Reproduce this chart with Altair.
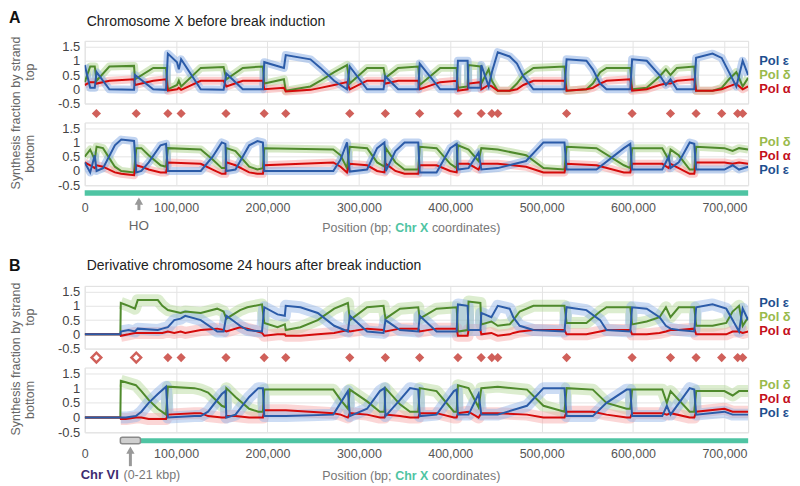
import altair as alt
import pandas as pd

FONT = "Liberation Sans"
XMAX = 726000
X_TICKS = [0, 100000, 200000, 300000, 400000, 500000, 600000, 700000]
Y_TICKS = [-0.5, 0, 0.5, 1, 1.5]

# replication origins (kb) shown as diamonds
ORIGINS_KB = [12.8, 56.4, 91, 105.5, 154.6, 196.4, 220, 290, 329, 366.5, 408.4,
              433.8, 445.5, 452, 527.3, 599, 641, 669, 697, 714.5, 720]
B_ORIGIN_KIND = ["open", "open", "solid", "solid", "solid", "solid", "solid", "solid",
                 "solid", "solid", "solid", "solid", "solid", "solid", "solid", "solid",
                 "solid", "solid", "solid", "solid", "solid"]

# ---- Panel A, top strand (x in kb) ----
A_TOP_X = [0, 6, 11, 13, 27, 54, 55, 75, 89, 91, 101, 103, 105.5, 127, 152, 155, 173, 195,
           196.5, 218, 220, 247, 258, 273, 287, 290, 309, 327, 329, 343, 365, 366.6, 389,
           407, 408.4, 419, 420, 433, 434, 442, 445.5, 452, 465, 473, 480, 491, 525, 527.3,
           549, 556, 564, 571, 597, 599, 615, 629, 636, 641, 648, 667, 669, 687, 697, 705,
           713, 714.6, 720, 726]
A_TOP_EPS = [.85, .05, .05, .6, 0, -.02, .5, 0, -.02, 1.25, .95, .7, 1.05, 0, -.02, .55, 0, 0,
             .95, .75, 1.2, 1.05, .75, .3, 0, .8, 0, 0, .45, 0, 0, .9, 0, 0, 1.0, 1.0, .05, .05,
             .85, .1, .6, 1.3, 1.15, .9, .45, 0, 0, 1.05, 1.0, .7, .2, 0, 0, 1.05, 1.0, .5, .15,
             .35, 0, 0, 1.1, 1.25, 1.1, .6, .1, .3, 1.0, .5]
A_TOP_DELTA = [.25, .8, .8, .3, .8, .82, .35, .75, .75, 0, .15, .3, .1, .75, .78, .35, .75, .8,
               .2, .35, -.05, .1, .3, .6, .85, .2, .75, .75, .4, .75, .8, .15, .75, .75, .05, .1,
               .85, .8, .2, .7, .3, -.05, -.05, .2, .5, .75, .8, -.05, 0, .2, .6, .75, .75, 0,
               .05, .45, .7, .5, .75, .8, -.05, -.05, .05, .35, .6, .5, .1, .4]
A_TOP_ALPHA = [.15, .25, .25, .2, .3, .35, .15, .3, .35, -.05, 0, .05, -.02, .3, .3, .1, .3, .3,
               0, .05, -.08, -.02, .05, .15, .25, 0, .3, .3, .2, .3, .3, 0, .25, .3, -.05, 0,
               .2, .25, 0, .15, .1, -.05, -.05, 0, .15, .3, .3, -.05, 0, .05, .2, .3, .35, -.05,
               0, .15, .2, .2, .3, .35, -.05, -.05, 0, .1, .2, .15, 0, .1]

# ---- Panel A, bottom strand ----
A_BOT_X = [0, 6, 11, 13, 20, 33, 40, 54, 56.4, 62, 70, 83, 89, 91, 127, 140, 150, 154, 155,
           165, 180, 189, 195, 196.5, 272, 280, 287, 290, 309, 320, 328, 329.5, 340, 350, 365,
           366.6, 385, 400, 407, 408.4, 420, 431, 434, 452, 483, 502, 525, 527.3, 560, 590,
           597, 599, 632, 639, 641.1, 650, 662, 667, 669.1, 700, 709, 716, 726]
A_BOT_EPS = [.3, -.05, .55, 0, .1, .9, 1.1, 1.05, -.05, 0, .3, .9, .95, 0, 0, .5, 1.0, .95, 0,
             .05, .9, 1.05, 1.0, 0, 0, .4, 1.0, -.02, .05, .8, 1.0, 0, .7, 1.0, 1.0, -.05, -.05,
             .8, .95, .05, .1, .65, .05, .1, .35, 1.0, 1.0, .05, .05, .8, .95, .05, .05, .5, .1,
             .3, 1.0, .95, .05, .05, .2, .05, .15]
A_BOT_DELTA = [.5, .75, .4, .85, .8, .15, 0, -.05, .8, .8, .55, .2, .15, .8, .75, .4, .1, .1,
               .8, .7, .15, .05, .1, .8, .75, .55, .1, .85, .8, .3, .15, .8, .3, .05, .05, .85,
               .8, .25, .1, .9, .75, .35, .8, .75, .55, .1, .05, .85, .8, .2, .1, .8, .8, .4,
               .75, .55, .05, .05, .85, .8, .7, .8, .75]
A_BOT_ALPHA = [.3, .2, .1, .2, .15, -.05, -.1, -.15, .2, .15, .05, -.05, -.05, .3, .25, .05,
               -.1, -.1, .3, .2, -.05, -.1, -.1, .2, .3, .15, -.05, .25, .2, 0, -.05, .25, 0,
               -.1, -.1, .2, .2, 0, -.05, .25, .25, .05, .25, .25, .15, -.05, -.05, .25, .2,
               -.05, -.05, .25, .25, .1, .25, .1, -.1, -.1, .3, .3, .25, .3, .25]

# ---- Panel B, top strand ----
B_TOP_X = [0, 39, 39.5, 48, 55, 58, 80, 85, 91, 98, 105, 110, 127, 145, 152, 155, 170, 178,
           194, 196.5, 211, 219, 220, 236, 255, 273, 288, 290.2, 309, 327, 329.1, 345, 365,
           366.6, 385, 407, 408.4, 419, 420, 433, 434, 445, 452, 465, 469, 476, 491, 525,
           527.3, 549, 564, 571, 597, 599, 615, 629, 636, 641, 650, 667, 669.1, 687, 702, 709,
           716, 720, 726]
B_TOP_EPS = [0, 0, .1, .15, .1, .2, .15, .2, .25, .5, .55, .65, .5, .1, .1, .65, .3, .15, .1,
             .95, .7, .65, 1.0, .95, .75, .3, .1, .65, .1, .05, .5, .15, .1, .65, .1, .1, 1.05,
             1.0, .15, .15, .75, .6, 1.0, .9, .6, .3, .15, .1, .95, .85, .5, .15, .1, .95, .9,
             .6, .3, .2, .15, .1, .95, 1.05, .9, .5, .1, .9, .5]
B_TOP_DELTA = [0, 0, 1.1, 1.0, .9, 1.2, 1.2, 1.0, .85, .8, .75, .8, .75, .9, .8, .55, .85, .95,
               1.05, .4, .25, .35, .15, .25, .5, .9, 1.1, .5, .95, 1.0, .55, .9, .95, .55, .9,
               .95, .1, .15, 1.15, 1.1, .35, .45, .3, .35, .5, .8, 1.0, 1.0, .4, .4, .8, .95,
               .95, .35, .45, .6, .95, .6, .95, .95, .3, .3, .4, .8, 1.0, .3, .6]
B_TOP_ALPHA = [0, 0, -.05, 0, .05, .05, .05, .05, .1, .05, .1, .05, .15, .2, .15, .1, .25, .2,
               .05, -.05, 0, 0, -.05, -.05, 0, .05, .15, .1, .2, .15, .1, .2, .2, .1, .2, .2,
               -.05, -.05, .15, .15, 0, .05, -.05, 0, .05, .1, .15, .15, 0, 0, .1, .15, .15, 0,
               0, .05, .1, .15, .15, .2, 0, 0, 0, .1, .1, .05, .1]

# ---- Panel B, bottom strand ----
B_BOT_X = [0, 39, 39.5, 45, 56, 62, 70, 80, 89, 91, 120, 127, 135, 150, 154, 155, 165, 180,
           190, 195, 196.5, 220, 272, 280, 288, 290.2, 309, 323, 328, 329.1, 345, 356, 365,
           366.6, 385, 404, 407, 408.4, 420, 431, 434, 452, 484, 502, 525, 527.3, 556, 571,
           593, 597, 599, 632, 637, 641.1, 662, 667, 669.1, 700, 709, 716, 726]
B_BOT_EPS = [0, 0, 0, 0, .05, .2, .5, .8, 1.05, 0, .05, .05, .2, .8, .9, 0, .1, .7, 1.0, 1.0,
             .05, .05, .1, .5, .9, .05, .3, .9, 1.0, .05, .6, 1.0, .95, .05, .1, .9, .95, .1,
             .1, .8, .1, .1, .4, 1.0, 1.0, .05, .05, .5, .95, .95, .05, .05, .4, .1, 1.0, .95,
             .1, .2, .1, .1, .1]
B_BOT_DELTA = [0, 0, 1.25, 1.2, 1.1, .9, .6, .3, .1, 1.05, 1.0, .95, .85, .4, .35, 1.0, .7, .3,
               .2, .2, .95, .95, .95, .6, .3, .95, .55, .2, .2, 1.0, .45, .2, .2, 1.0, .9, .2,
               .2, 1.1, 1.0, .35, 1.0, 1.05, .95, .4, .2, 1.0, .95, .5, .3, .3, .95, .95, .5,
               .9, .2, .2, .9, .9, .75, .9, .9]
B_BOT_ALPHA = [0, 0, -.05, -.05, 0, 0, -.05, -.05, -.05, .1, .15, .15, .05, 0, 0, .05, .05, 0,
               0, 0, .25, .25, .15, .1, 0, .15, .1, 0, 0, .1, .05, 0, 0, .15, .15, 0, 0, .15,
               .2, 0, .15, .15, .1, 0, 0, .2, .2, .1, 0, 0, .15, .15, .1, .15, 0, 0, .2, .3, .2,
               .2, .2]

HO_KB = [59.3]
CHR_VI_KB = [39, 61]
CHR_VI_ARROW_KB = [50]
TEAL_A_KB = [0, 726]
TEAL_B_KB = [61, 726]

# ---------------- styling ----------------
GRID = "#e4e4e4"
C_EPS, C_EPS_L = "#2b5ba8", "#8eb1e6"
C_DLT, C_DLT_L = "#4f8a2c", "#b2d695"
C_ALP, C_ALP_L = "#d40b0b", "#f7a5a5"
L_EPS, L_DLT, L_ALP = "#1f4f8f", "#9aba4c", "#c4101c"
DIAMOND = "#d0605a"
TEAL = "#4fc4a3"
W = 666
ONE = pd.DataFrame({"k": [0]})


def xenc(labels, pad=16):
    return alt.X("x:Q", scale=alt.Scale(domain=[0, XMAX], nice=False, zero=False), title=None,
                 axis=alt.Axis(values=X_TICKS, grid=True, gridColor=GRID, labels=labels,
                               ticks=False, tickSize=0, domain=False, format=",d",
                               labelFontSize=12.5, labelColor="#555", labelPadding=pad,
                               labelFlush=False, labelFont=FONT))


def yenc(field):
    return alt.Y(field + ":Q", scale=alt.Scale(domain=[-0.5, 1.7], nice=False, zero=False),
                 title=None,
                 axis=alt.Axis(values=Y_TICKS, grid=True, gridColor=GRID, ticks=False,
                               domain=False, labelFontSize=13, labelColor="#444",
                               labelPadding=5, labelFlush=False, labelFont=FONT,
                               labelExpr="replace(format(datum.value, '~g'), '−', '-')"))


def txt(s, x, y, size=13, color="#555", weight="normal", align="left", angle=0,
        baseline="middle"):
    kw = dict(text=s, fontSize=size, color=color, fontWeight=weight, align=align,
              baseline=baseline, font=FONT)
    if angle:
        kw["angle"] = angle
    return alt.Chart(ONE).mark_text(**kw).encode(x=alt.value(x), y=alt.value(y))


def series_df(xs, e, d, a):
    return pd.DataFrame({"x": [v * 1000 for v in xs], "eps": e, "dlt": d, "alp": a,
                         "i": list(range(len(xs)))})


def traces(df, labels, pad, halo_w, halo_op, raw_min=None):
    layers = []
    for field, col in (("dlt", C_DLT_L), ("alp", C_ALP_L), ("eps", C_EPS_L)):
        c = alt.Chart(df).mark_line(color=col, strokeWidth=halo_w, opacity=halo_op, clip=True,
                                    strokeJoin="round")
        if raw_min is not None:
            c = c.transform_filter(alt.datum.x > raw_min)
        layers.append(c.encode(x=xenc(labels, pad), y=yenc(field), order="i:Q"))
    for field, col in (("dlt", C_DLT), ("alp", C_ALP), ("eps", C_EPS)):
        layers.append(alt.Chart(df).mark_line(color=col, strokeWidth=2, clip=True)
                      .encode(x=xenc(labels, pad), y=yenc(field), order="i:Q"))
    return layers


def legend(order, ys):
    out = []
    names = {"eps": ("Pol ε", L_EPS), "dlt": ("Pol δ", L_DLT), "alp": ("Pol α", L_ALP)}
    for key, y in zip(order, ys):
        s, c = names[key]
        out.append(txt(s, 677, y, size=13, color=c, weight="bold"))
    return out


orig_df = pd.DataFrame({"x": [v * 1000 for v in ORIGINS_KB], "kind": B_ORIGIN_KIND})


def diamonds(labels, y, hollow_first):
    solid = alt.Chart(orig_df)
    if hollow_first:
        solid = solid.transform_filter(alt.datum.kind == "solid")
    out = [solid.mark_point(shape="diamond", filled=True, size=85, color=DIAMOND, opacity=1)
           .encode(x=xenc(labels), y=alt.value(y))]
    if hollow_first:
        out.append(alt.Chart(orig_df).transform_filter(alt.datum.kind == "open")
                   .mark_point(shape="diamond", filled=True, size=95, fill="white",
                               stroke=DIAMOND, strokeWidth=2.5, opacity=1)
                   .encode(x=xenc(labels), y=alt.value(y)))
    return out


YT = "Synthesis fraction by strand"

# ---------- Panel A top ----------
a_top_df = series_df(A_TOP_X, A_TOP_EPS, A_TOP_DELTA, A_TOP_ALPHA)
a_top = alt.layer(
    *traces(a_top_df, False, 16, 8, 0.55),
    *diamonds(False, 73, False),
    txt("A", -76, -31, size=16, color="#111", weight="bold", baseline="top"),
    txt("Chromosome X before break induction", 2, -19, size=14, color="#222"),
    txt(YT, -69, 72.5, size=12.5, color="#666", align="center", angle=270),
    txt("top", -55, 31.5, size=12.5, color="#666", align="center", angle=270),
    *legend(["eps", "dlt", "alp"], [20, 34, 48]),
).properties(width=W, height=63)

# ---------- Panel A bottom ----------
a_bot_df = series_df(A_BOT_X, A_BOT_EPS, A_BOT_DELTA, A_BOT_ALPHA)
teal_a = pd.DataFrame({"x": [TEAL_A_KB[0] * 1000], "x2": [TEAL_A_KB[1] * 1000]})
ho_df = pd.DataFrame({"x": [v * 1000 for v in HO_KB]})
a_bot = alt.layer(
    *traces(a_bot_df, True, 16, 8, 0.55),
    alt.Chart(teal_a).mark_rect(color=TEAL).encode(
        x=xenc(True), x2="x2:Q", y=alt.value(68), y2=alt.value(73.5)),
    alt.Chart(ho_df).mark_rule(color="#999", strokeWidth=3).encode(
        x=xenc(True), y=alt.value(78), y2=alt.value(88)),
    alt.Chart(ho_df).mark_point(shape="triangle-up", filled=True, size=70, color="#999",
                                opacity=1).encode(x=xenc(True), y=alt.value(79)),
    alt.Chart(ho_df).mark_text(text="HO", fontSize=13.5, color="#666", font=FONT,
                               baseline="middle").encode(x=xenc(True), y=alt.value(104)),
    txt("bottom", -55, 31.5, size=12.5, color="#666", align="center", angle=270),
    txt("Position (bp;", 238.5, 106, size=12.5, color="#777"),
    txt("Chr X", 311.7, 106, size=12.5, color=TEAL, weight="bold"),
    txt("coordinates)", 348.5, 106, size=12.5, color="#777"),
    *legend(["dlt", "alp", "eps"], [20, 34, 48]),
).properties(width=W, height=63)

spacer = alt.Chart(ONE).mark_point(opacity=0).encode(
    x=alt.value(0), y=alt.value(0)).properties(
    width=W, height=63, view=alt.ViewBackground(strokeOpacity=0))

# ---------- Panel B top ----------
b_top_df = series_df(B_TOP_X, B_TOP_EPS, B_TOP_DELTA, B_TOP_ALPHA)
b_top = alt.layer(
    *traces(b_top_df, False, 16, 12, 0.45, raw_min=39000),
    *diamonds(False, 72, True),
    txt("B", -76, -28, size=16, color="#111", weight="bold", baseline="top"),
    txt("Derivative chromosome 24 hours after break induction", 2, -20, size=14,
        color="#222"),
    txt(YT, -69, 73.5, size=12.5, color="#666", align="center", angle=270),
    txt("top", -55, 31.5, size=12.5, color="#666", align="center", angle=270),
    *legend(["eps", "dlt", "alp"], [17, 31, 45]),
).properties(width=W, height=63)

# ---------- Panel B bottom ----------
b_bot_df = series_df(B_BOT_X, B_BOT_EPS, B_BOT_DELTA, B_BOT_ALPHA)
teal_b = pd.DataFrame({"x": [TEAL_B_KB[0] * 1000], "x2": [TEAL_B_KB[1] * 1000]})
chr6 = pd.DataFrame({"x": [CHR_VI_KB[0] * 1000], "x2": [CHR_VI_KB[1] * 1000]})
arr_b = pd.DataFrame({"x": [v * 1000 for v in CHR_VI_ARROW_KB]})
b_bot = alt.layer(
    *traces(b_bot_df, True, 15, 12, 0.45, raw_min=39000),
    alt.Chart(teal_b).mark_rect(color=TEAL).encode(
        x=xenc(True, 15), x2="x2:Q", y=alt.value(71), y2=alt.value(76)),
    alt.Chart(chr6).mark_rect(fill="#cfcfcf", stroke="#8a8a8a", strokeWidth=1.5,
                              cornerRadius=2).encode(
        x=xenc(True, 15), x2="x2:Q", y=alt.value(70), y2=alt.value(76.5)),
    alt.Chart(arr_b).mark_rule(color="#999", strokeWidth=3).encode(
        x=xenc(True, 15), y=alt.value(83), y2=alt.value(99)),
    alt.Chart(arr_b).mark_point(shape="triangle-up", filled=True, size=70, color="#999",
                                opacity=1).encode(x=xenc(True, 15), y=alt.value(83)),
    txt("bottom", -55, 32.5, size=12.5, color="#666", align="center", angle=270),
    txt("Chr VI", -4, 108, size=13, color="#3d2c70", weight="bold"),
    txt("(0-21 kbp)", 39, 108, size=12.5, color="#777"),
    txt("Position (bp;", 238.5, 109, size=12.5, color="#777"),
    txt("Chr X", 311.7, 109, size=12.5, color=TEAL, weight="bold"),
    txt("coordinates)", 348.5, 109, size=12.5, color="#777"),
    *legend(["dlt", "alp", "eps"], [18, 32, 46]),
).properties(width=W, height=65)

chart = alt.vconcat(a_top, a_bot, spacer, b_top, b_bot, spacing=19, bounds="flush").properties(
    padding=0
).configure_view(stroke=GRID).configure(font=FONT)

chart.save("out.html", embed_options={"renderer": "svg", "actions": False})
